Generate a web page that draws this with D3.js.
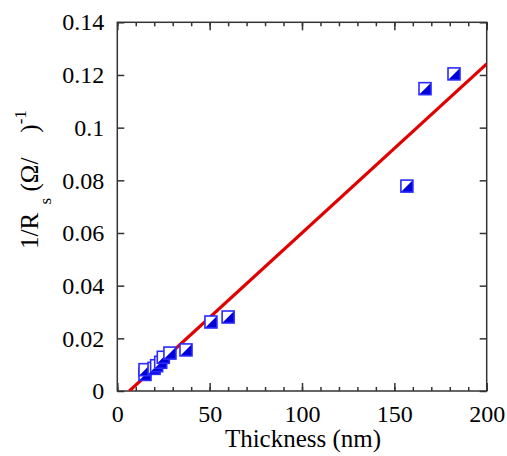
<!DOCTYPE html>
<html><head><meta charset="utf-8">
<script src="https://cdn.jsdelivr.net/npm/d3@7"></script>
<style>body{margin:0;background:#fff}svg{display:block}</style>
</head><body>
<svg id="c" width="507" height="456"></svg>
<script>
// Data
const thickness = [15, 15, 19.9, 21.3, 23.5, 24.9, 28.5, 37.2, 50.7, 60, 156.8, 166.6, 182.3];
const conductance = [0.0063, 0.0081, 0.0086, 0.0096, 0.0109, 0.0128, 0.0144, 0.0156, 0.0262, 0.0281, 0.0778, 0.1148, 0.1204];
const fitX = [6.5, 200];
const fitY = [0, 0.1242];
const xMajor = [0, 50, 100, 150, 200];
const xMinor = d3.range(0, 201, 10);
const yMajor = [0, 0.02, 0.04, 0.06, 0.08, 0.1, 0.12, 0.14];
const yTickLabels = ["0", "0.02", "0.04", "0.06", "0.08", "0.1", "0.12", "0.14"];

const FONT = "Liberation Serif";
const svg = d3.select("#c");
const L = 117.3, R = 486.7, T = 22.3, B = 391;
const x = d3.scaleLinear().domain([0, 200]).range([L, R]);
const y = d3.scaleLinear().domain([0, 0.14]).range([B, T]);

const axCol = "#333";
function styleAxis(g) {
  g.select(".domain").remove();
  g.selectAll(".tick line").attr("stroke", axCol).attr("stroke-width", 1.5);
  g.selectAll("text").attr("fill", "#000").style("font-family", FONT).style("font-size", "24px");
}
// bottom
svg.append("g").attr("transform", `translate(0,${B})`)
  .call(d3.axisBottom(x).tickValues(xMinor).tickSize(-4).tickFormat("")).call(styleAxis);
svg.append("g").attr("transform", `translate(0,${B})`)
  .call(d3.axisBottom(x).tickValues(xMajor).tickSize(-8).tickPadding(14).tickFormat(d3.format("d"))).call(styleAxis);
// top
svg.append("g").attr("transform", `translate(0,${T})`)
  .call(d3.axisTop(x).tickValues(xMinor).tickSize(-4).tickFormat("")).call(styleAxis);
svg.append("g").attr("transform", `translate(0,${T})`)
  .call(d3.axisTop(x).tickValues(xMajor).tickSize(-8).tickFormat("")).call(styleAxis);
// left
svg.append("g").attr("transform", `translate(${L},0)`)
  .call(d3.axisLeft(y).tickValues(yMajor).tickSize(-7).tickPadding(13).tickFormat((d, i) => yTickLabels[i])).call(styleAxis);
// right
svg.append("g").attr("transform", `translate(${R},0)`)
  .call(d3.axisRight(y).tickValues(yMajor).tickSize(-7).tickFormat("")).call(styleAxis);

// frame
svg.append("rect").attr("x", L).attr("y", T).attr("width", R - L).attr("height", B - T)
  .attr("fill", "none").attr("stroke", axCol).attr("stroke-width", 1.5);

// clip
svg.append("clipPath").attr("id", "clip").append("rect")
  .attr("x", L).attr("y", T).attr("width", R - L).attr("height", B - T);

// fit line
const fit = fitX.map((v, i) => [v, fitY[i]]);
svg.append("path").datum(fit).attr("clip-path", "url(#clip)")
  .attr("d", d3.line().x(d => x(d[0])).y(d => y(d[1])))
  .attr("stroke", "#e00000").attr("stroke-width", 3.2).attr("fill", "none");

// markers
const pts = thickness.map((v, i) => [v, conductance[i]]);
const s = 12;
const mg = svg.append("g").selectAll("g").data(pts).join("g")
  .attr("transform", d => `translate(${x(d[0])},${y(d[1])})`);
mg.append("rect").attr("x", -s / 2).attr("y", -s / 2).attr("width", s).attr("height", s)
  .attr("fill", "#fff");
mg.append("path").attr("d", `M${-s/2},${s/2}L${s/2},${-s/2}L${s/2},${s/2}Z`).attr("fill", "#0000d8");
mg.append("rect").attr("x", -s / 2).attr("y", -s / 2).attr("width", s).attr("height", s)
  .attr("fill", "none").attr("stroke", "#2a2aff").attr("stroke-width", 1.6);

// x title
svg.append("text").attr("x", (L + R) / 2 + 1).attr("y", 447).attr("text-anchor", "middle")
  .style("font-family", FONT).style("font-size", "25px").text("Thickness (nm)");

// y title
const yt = svg.append("text").attr("transform", "translate(38,249) rotate(-90)")
  .attr("text-anchor", "start").style("font-family", FONT).style("font-size", "25px");
yt.append("tspan").text("1/R");
yt.append("tspan").attr("dy", 13).style("font-size", "17px").text("\u2002s");
yt.append("tspan").attr("dy", -13).text(" (Ω/\u2002\u2002)");
yt.append("tspan").attr("dy", -12).style("font-size", "17px").text("-1");
</script>
</body></html>
